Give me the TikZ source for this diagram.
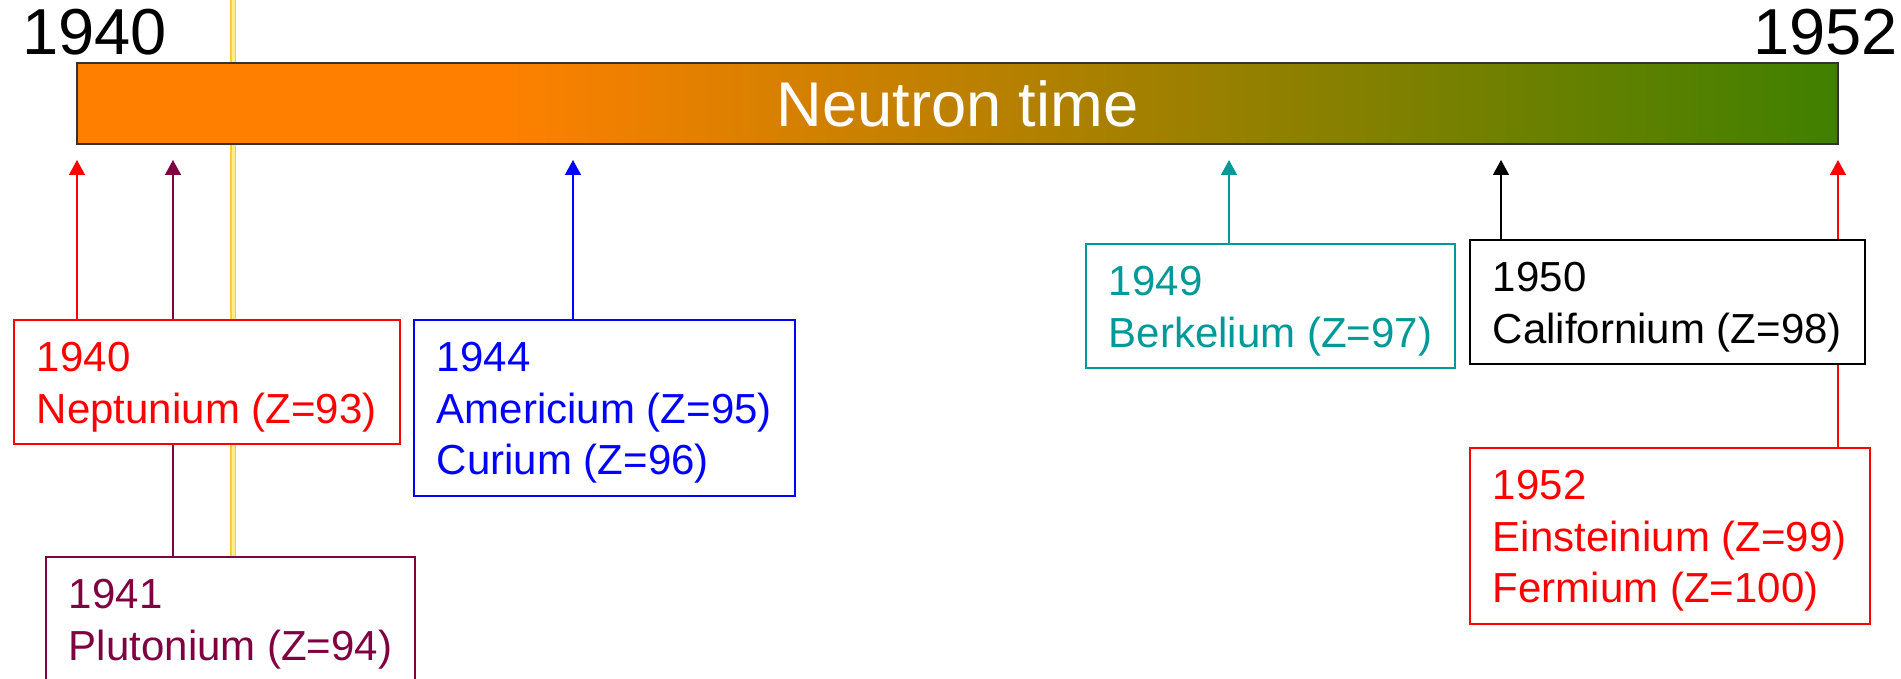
\documentclass[tikz,border=0pt]{standalone}
\usepackage{fontspec}
\setmainfont{Liberation Sans}
\usepackage{xcolor}
\usetikzlibrary{arrows.meta,positioning,backgrounds}

\definecolor{elred}{RGB}{255,0,0}
\definecolor{elplum}{RGB}{128,0,64}
\definecolor{elblue}{RGB}{0,0,255}
\definecolor{elteal}{RGB}{0,153,153}
\definecolor{barorange}{RGB}{255,128,0}
\definecolor{bargreen}{RGB}{64,128,0}
\definecolor{baredge}{RGB}{51,51,51}
\definecolor{goldedge}{RGB}{245,206,60}
\definecolor{goldcore}{RGB}{255,236,140}
\pgfdeclarehorizontalshading{neutronfade}{100bp}{color(0bp)=(barorange); color(37bp)=(barorange); color(75bp)=(bargreen); color(100bp)=(bargreen)}
\newcommand{\elyear}[1]{\rule{0pt}{0.8cm}#1}

\begin{document}
\begin{tikzpicture}[
    x=0.02cm, y=-0.02cm,
    every node/.style={inner sep=0pt},
    event/.style={draw=#1,text=#1,fill=white,line width=1.1pt,anchor=north west,align=left,
      font=\fontsize{23.9}{29.3}\selectfont,inner xsep=0.46cm,inner ysep=0.24cm},
    arrow/.style={draw=#1,line width=0.8pt,-{Triangle[width=0.32cm,length=0.3cm]}},
    year/.style={font=\fontsize{37}{44}\selectfont}
  ]
    \useasboundingbox (0,0) rectangle (1901,679);
    \clip (0,0) rectangle (1901,679);
    \node (bar) [draw=baredge,line width=1pt,shading=neutronfade,minimum width=35.22cm,minimum height=1.62cm,
      text=white,font=\fontsize{36}{43}\selectfont] at (957.5,103.5) {Neutron time};
    \node (y40) [year,anchor=base west] at (22,55) {1940};
    \node (y52) [year,anchor=base east] at (1898,55) {1952};
    \node (np)   [event=elred]  at (13,319)   {\elyear{1940}\\Neptunium (Z=93)};
    \node (pu)   [event=elplum] at (45,556)   {\elyear{1941}\\Plutonium (Z=94)};
    \node (amcm) [event=elblue] at (413,319)  {\elyear{1944}\\Americium (Z=95)\\Curium (Z=96)};
    \node (bk)   [event=elteal] at (1085,243) {\elyear{1949}\\Berkelium (Z=97)};
    \node (cf)   [event=black]  at (1469,239) {\elyear{1950}\\Californium (Z=98)};
    \node (esfm) [event=elred]  at (1469,447) {\elyear{1952}\\Einsteinium (Z=99)\\Fermium (Z=100)};
    \coordinate (gold) at (233,0);
    \coordinate (t40) at (77,160);
    \coordinate (t41) at (173,160);
    \coordinate (t44) at (573,160);
    \coordinate (t49) at (1229,160);
    \coordinate (t50) at (1501,160);
    \coordinate (t52) at (1838,160);
    \begin{pgfonlayer}{background}
      \draw[goldedge,line width=0.03cm,double=goldcore,double distance=0.06cm] (gold) -- (gold |- pu.north);
      \draw[arrow=elred]  (t40 |- np.north) -- (t40);
      \draw[arrow=elplum] (t41 |- pu.north) -- (t41);
      \draw[arrow=elblue] (t44 |- amcm.north) -- (t44);
      \draw[arrow=elteal] (t49 |- bk.north) -- (t49);
      \draw[arrow=black]  (t50 |- cf.north) -- (t50);
      \draw[arrow=elred]  (t52 |- esfm.north) -- (t52);
    \end{pgfonlayer}
\end{tikzpicture}
\end{document}
